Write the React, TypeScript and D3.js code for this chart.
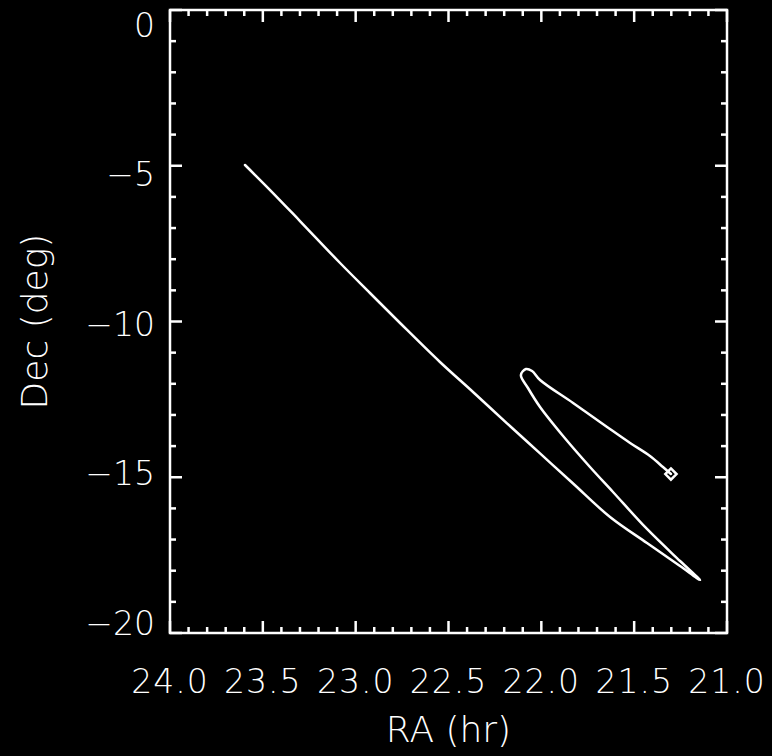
import React from 'react';
import * as d3 from 'd3';

// Track of the object on the sky (RA in hours, Dec in degrees)
const raHours = [23.596, 23.461, 23.300, 23.084, 22.923, 22.761, 22.546, 22.368, 22.185, 22.007, 21.829, 21.630, 21.431, 21.253, 21.145,
  21.253, 21.431, 21.614, 21.738, 21.883, 22.007, 22.072, 22.110, 22.083, 22.050,
  22.007, 21.829, 21.646, 21.522, 21.415, 21.345, 21.302];
const decDeg = [-4.976, -5.779, -6.774, -8.122, -9.085, -10.048, -11.300, -12.263, -13.268, -14.234, -15.201, -16.276, -17.111, -17.849, -18.299,
  -17.689, -16.661, -15.474, -14.671, -13.676, -12.745, -12.135, -11.718, -11.525, -11.589,
  -11.878, -12.616, -13.387, -13.901, -14.318, -14.671, -14.896];

const xTicks = [24.0, 23.5, 23.0, 22.5, 22.0, 21.5, 21.0];
const yTicks = [0, -5, -10, -15, -20];

const W = 772, H = 756;
const left = 170, right = 727, top = 10, bottom = 633;
const font = '"DejaVu Sans", sans-serif';

export default function App() {
  const x = d3.scaleLinear().domain([24, 21]).range([left, right]);
  const y = d3.scaleLinear().domain([0, -20]).range([top, bottom]);
  // IDL spreads the y labels over a slightly shorter span than the axis
  const yLab = d3.scaleLinear().domain([0, -20]).range([25, 623]);

  const pts = raHours.map((r, i) => [r, decDeg[i]] as [number, number]);
  const line = d3.line<[number, number]>().x(d => x(d[0])).y(d => y(d[1])).curve(d3.curveCatmullRom.alpha(0.5));
  const last = pts[pts.length - 1];
  const diamond = d3.symbol().type(d3.symbolDiamond2).size(80)();

  const xMinor = d3.range(21, 24.001, 0.1).map(v => +v.toFixed(1));
  const yMinor = d3.range(-20, 0.001, 1);
  const major = 12, minor = 6;

  return (
    <svg width={W} height={H} style={{ position: 'absolute', left: 0, top: 0, background: '#000' }}>
      <rect width={W} height={H} fill="#000" />
      <g stroke="#fff" strokeWidth={2.5} fill="none">
        <rect x={left} y={top} width={right - left} height={bottom - top} />
        {xMinor.map(v => {
          const len = xTicks.some(t => Math.abs(t - v) < 1e-6) ? major : minor;
          return (
            <g key={'x' + v}>
              <line x1={x(v)} x2={x(v)} y1={bottom} y2={bottom - len} />
              <line x1={x(v)} x2={x(v)} y1={top} y2={top + len} />
            </g>
          );
        })}
        {yMinor.map(v => {
          const len = v % 5 === 0 ? major : minor;
          return (
            <g key={'y' + v}>
              <line x1={left} x2={left + len} y1={y(v)} y2={y(v)} />
              <line x1={right} x2={right - len} y1={y(v)} y2={y(v)} />
            </g>
          );
        })}
        <path d={line(pts) || ''} strokeLinejoin="round" strokeLinecap="round" />
        <path d={diamond || ''} transform={`translate(${x(last[0])},${y(last[1])})`} />
      </g>
      <g fill="#fff" fontFamily={font} fontSize={33} fontWeight={200}>
        {xTicks.map(t => (
          <text key={t} x={x(t)} y={693} textAnchor="middle" letterSpacing={1}>{t.toFixed(1)}</text>
        ))}
        {yTicks.map(t => (
          <text key={t} x={155} y={yLab(t)} textAnchor="end" dominantBaseline="central">
            {t < 0 ? '\u2212' + Math.abs(t) : String(t)}
          </text>
        ))}
        <text x={(left + right) / 2} y={742} textAnchor="middle" fontSize={36}>RA (hr)</text>
        <text transform={`translate(47,${(top + bottom) / 2}) rotate(-90)`} textAnchor="middle" fontSize={36}>Dec (deg)</text>
      </g>
    </svg>
  );
}
